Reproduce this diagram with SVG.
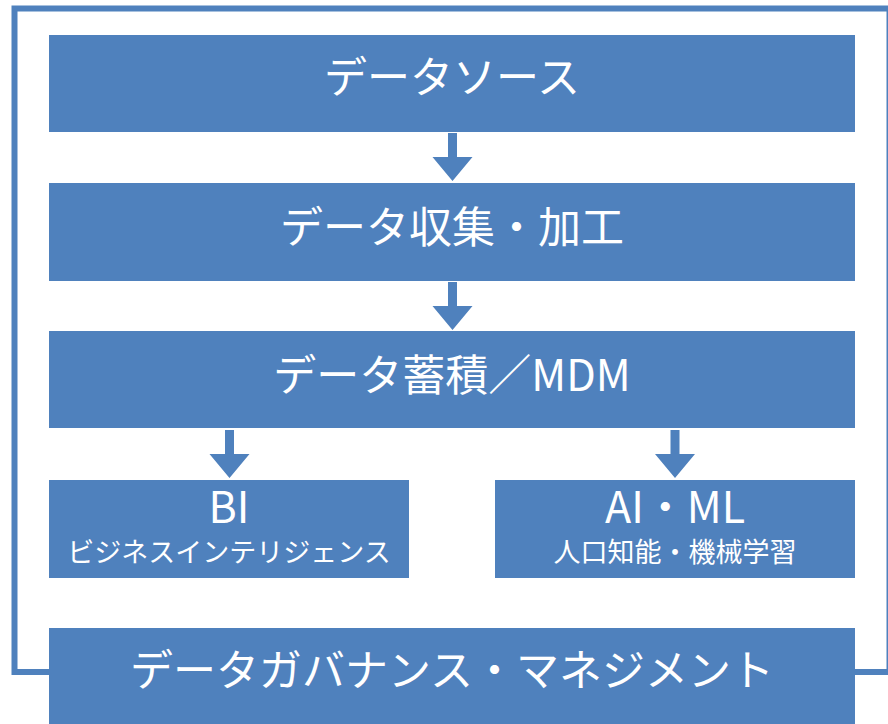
<svg xmlns="http://www.w3.org/2000/svg" width="888" height="724" viewBox="0 0 888 724">
<style>
.box{fill:#4F81BD}
.t{fill:#fff;font-family:"Noto Sans CJK JP","Noto Sans",sans-serif;text-anchor:middle}
.big{font-size:43px}
.small{font-size:27px}
.arrow{fill:#4F81BD}
</style>
<defs>
<path id="arr" d="M-4.5,0 H4.5 V24 H20 L0,48 L-20,24 H-4.5 Z"/>
</defs>
<rect x="14.5" y="8.5" width="875" height="663.5" fill="none" stroke="#4F81BD" stroke-width="6"/>
<g id="n1"><rect class="box" x="49" y="35" width="806" height="97"/><text class="t big" x="452" y="93">データソース</text></g>
<g id="n2"><rect class="box" x="49" y="183" width="806" height="98"/><text class="t big" x="452" y="243">データ収集・加工</text></g>
<g id="n3"><rect class="box" x="49" y="331" width="806" height="97"/><text class="t big" x="452" y="391">データ蓄積／MDM</text></g>
<g id="n4"><rect class="box" x="49" y="480" width="360" height="98"/><text class="t big" x="229" y="523">BI</text><text class="t small" x="229" y="562">ビジネスインテリジェンス</text></g>
<g id="n5"><rect class="box" x="495" y="480" width="360" height="98"/><text class="t big" x="675" y="523">AI・ML</text><text class="t small" x="675" y="562">人口知能・機械学習</text></g>
<g id="n6"><rect class="box" x="49" y="628" width="806" height="96"/><text class="t big" x="452" y="686">データガバナンス・マネジメント</text></g>
<g id="connectors" class="arrow">
<use href="#arr" x="452.5" y="133"/>
<use href="#arr" x="452.5" y="282"/>
<use href="#arr" x="229.5" y="430"/>
<use href="#arr" x="675" y="430"/>
</g>
</svg>
